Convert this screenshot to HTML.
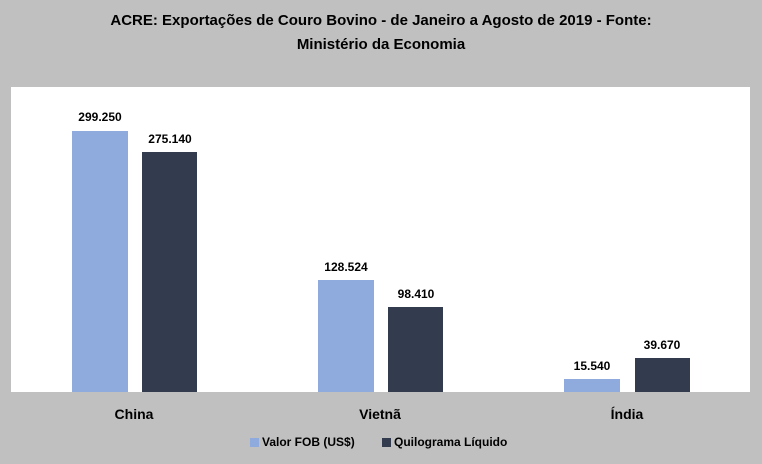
<!DOCTYPE html><html><head><style>
body{margin:0;width:762px;height:464px;background:#c0c0c0;position:relative;overflow:hidden;font-family:"Liberation Sans",sans-serif;color:#000}
.a{position:absolute}
.t{left:0;width:762px;text-align:center;font-weight:bold;font-size:15px;line-height:24px;top:9px}
.p{left:11px;top:87px;width:739px;height:305px;background:#fff}
.b{background:#8faadc}.d{background:#323c4e}
.l{font-weight:bold;font-size:12px;width:80px;text-align:center}
.c{font-weight:bold;font-size:14px;width:120px;text-align:center;top:406px}
</style></head><body>
<div class="a t">ACRE: Exportações de Couro Bovino - de Janeiro a Agosto de 2019 - Fonte:<br>Ministério da Economia</div>
<div class="a p"></div>
<div class="a b" style="left:72px;top:131px;width:56px;height:261px"></div>
<div class="a d" style="left:142px;top:152px;width:55px;height:240px"></div>
<div class="a b" style="left:318px;top:280px;width:56px;height:112px"></div>
<div class="a d" style="left:388px;top:307px;width:55px;height:85px"></div>
<div class="a b" style="left:564px;top:379px;width:56px;height:13px"></div>
<div class="a d" style="left:635px;top:358px;width:55px;height:34px"></div>
<div class="a l" style="left:60px;top:110px">299.250</div>
<div class="a l" style="left:130px;top:132px">275.140</div>
<div class="a l" style="left:306px;top:260px">128.524</div>
<div class="a l" style="left:376px;top:287px">98.410</div>
<div class="a l" style="left:552px;top:359px">15.540</div>
<div class="a l" style="left:622px;top:338px">39.670</div>
<div class="a c" style="left:74px">China</div>
<div class="a c" style="left:320px">Vietnã</div>
<div class="a c" style="left:567px">Índia</div>
<div class="a b" style="left:250px;top:438px;width:9px;height:9px"></div>
<div class="a" style="left:262px;top:435px;font-size:12px;font-weight:bold">Valor FOB (US$)</div>
<div class="a d" style="left:382px;top:438px;width:9px;height:9px"></div>
<div class="a" style="left:394px;top:435px;font-size:12px;font-weight:bold">Quilograma Líquido</div>
</body></html>
